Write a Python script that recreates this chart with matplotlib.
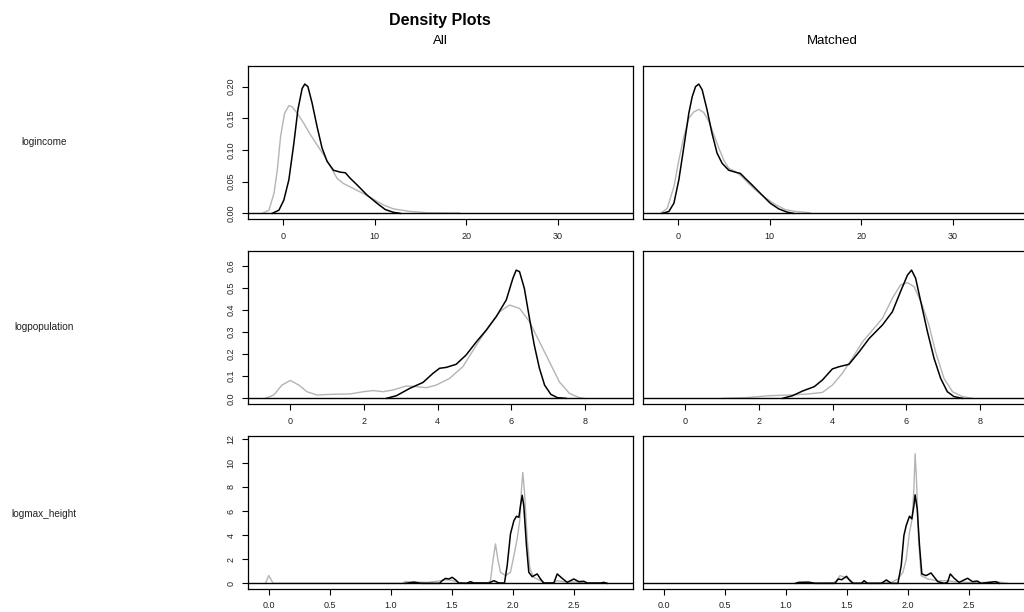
import matplotlib
matplotlib.use("Agg")
import matplotlib.pyplot as plt

plt.rcParams['font.family'] = ['Liberation Sans', 'DejaVu Sans']

# --- data (black = first group, gray = second group) ---
variables = ["logincome", "logpopulation", "logmax_height"]
col_titles = ["All", "Matched"]

# logincome, All
inc_all_black_x = [-1.2, -0.47, 0.07, 0.62, 1.16, 1.6, 2.07, 2.36, 2.7, 3.16, 3.7, 4.25, 4.8,
                   5.5, 6.25, 6.8, 7.35, 8.07, 9.16, 10.25, 11.16, 12.07, 12.8]
inc_all_black_y = [0, 0.005, 0.021, 0.053, 0.11, 0.163, 0.197, 0.204, 0.2, 0.174, 0.137, 0.103,
                   0.082, 0.068, 0.065, 0.064, 0.055, 0.045, 0.029, 0.016, 0.006, 0.0016, 0]
inc_all_gray_x = [-2.3, -1.56, -1.0, -0.65, -0.29, 0.15, 0.62, 0.98, 1.53, 2.25, 2.98, 3.7, 4.44,
                  5.16, 5.9, 6.6, 7.7, 8.8, 9.9, 11.0, 12.07, 13.9, 15.7, 19.3]
inc_all_gray_y = [0, 0.005, 0.032, 0.068, 0.121, 0.158, 0.17, 0.168, 0.158, 0.142, 0.124, 0.108,
                  0.092, 0.074, 0.055, 0.047, 0.039, 0.031, 0.022, 0.013, 0.007, 0.003, 0.001, 0.0005]

# logincome, Matched
inc_mat_black_x = [-1.75, -1.02, -0.47, 0.07, 0.62, 1.16, 1.53, 1.9, 2.25, 2.62, 3.16, 3.7, 4.25,
                   4.8, 5.53, 6.25, 6.8, 7.35, 8.07, 9.16, 10.07, 11.0, 11.9, 12.6]
inc_mat_black_y = [0, 0.003, 0.016, 0.053, 0.105, 0.158, 0.184, 0.2, 0.204, 0.195, 0.163, 0.126,
                   0.095, 0.079, 0.068, 0.065, 0.063, 0.055, 0.045, 0.029, 0.016, 0.007, 0.002, 0]
inc_mat_gray_x = [-1.93, -1.2, -0.47, 0.07, 0.62, 1.16, 1.7, 2.25, 2.8, 3.35, 3.9, 4.44, 4.98,
                  5.53, 6.25, 6.98, 7.7, 8.44, 9.5, 10.6, 11.7, 12.8, 14.4]
inc_mat_gray_y = [0, 0.008, 0.042, 0.084, 0.121, 0.15, 0.16, 0.164, 0.159, 0.145, 0.124, 0.103,
                  0.084, 0.071, 0.066, 0.058, 0.047, 0.037, 0.025, 0.014, 0.006, 0.003, 0.001]

# logpopulation, All
pop_all_black_x = [2.61, 2.88, 3.24, 3.6, 3.87, 4.05, 4.23, 4.5, 4.77, 5.05, 5.32, 5.59, 5.86,
                   6.04, 6.13, 6.22, 6.35, 6.49, 6.62, 6.76, 6.9, 7.07, 7.25, 7.48]
pop_all_black_y = [0, 0.012, 0.045, 0.072, 0.113, 0.136, 0.14, 0.154, 0.196, 0.256, 0.309, 0.37,
                   0.445, 0.543, 0.58, 0.573, 0.498, 0.362, 0.241, 0.136, 0.06, 0.018, 0.003, 0]
pop_all_gray_x = [-0.68, -0.45, -0.23, 0.0, 0.23, 0.45, 0.72, 1.08, 1.62, 1.98, 2.25, 2.52, 2.79,
                  3.15, 3.42, 3.69, 3.96, 4.32, 4.68, 5.05, 5.41, 5.68, 5.95, 6.22, 6.49, 6.76,
                  7.03, 7.3, 7.57, 7.84, 7.97]
pop_all_gray_y = [0, 0.015, 0.06, 0.081, 0.06, 0.03, 0.015, 0.018, 0.02, 0.03, 0.035, 0.03, 0.038,
                  0.056, 0.053, 0.048, 0.06, 0.09, 0.143, 0.241, 0.332, 0.392, 0.422, 0.407, 0.347,
                  0.256, 0.166, 0.075, 0.023, 0.003, 0]

# logpopulation, Matched
pop_mat_black_x = [2.64, 2.91, 3.18, 3.5, 3.72, 3.99, 4.17, 4.44, 4.72, 4.99, 5.35, 5.62, 5.84,
                   6.03, 6.14, 6.25, 6.39, 6.57, 6.75, 6.93, 7.11, 7.29, 7.52]
pop_mat_black_y = [0, 0.012, 0.033, 0.053, 0.083, 0.133, 0.143, 0.154, 0.211, 0.271, 0.332, 0.392,
                   0.483, 0.558, 0.58, 0.543, 0.437, 0.302, 0.181, 0.09, 0.03, 0.008, 0]
pop_mat_gray_x = [1.01, 1.64, 2.28, 2.82, 3.36, 3.72, 3.99, 4.26, 4.53, 4.81, 5.08, 5.35, 5.62,
                  5.84, 6.03, 6.21, 6.43, 6.61, 6.79, 7.02, 7.25, 7.52, 7.79]
pop_mat_gray_y = [0, 0.003, 0.012, 0.015, 0.02, 0.027, 0.06, 0.113, 0.181, 0.256, 0.309, 0.362,
                  0.453, 0.513, 0.523, 0.505, 0.422, 0.332, 0.211, 0.09, 0.03, 0.008, 0]

# logmax_height, All
hgt_all_black_x = [1.12, 1.19, 1.25, 1.4, 1.421, 1.448, 1.476, 1.503, 1.53, 1.558, 1.62, 1.653,
                   1.681, 1.804, 1.845, 1.886, 1.932, 1.954, 1.981, 2.009, 2.03, 2.05, 2.063, 2.077,
                   2.09, 2.112, 2.131, 2.159, 2.2, 2.227, 2.254, 2.336, 2.364, 2.405, 2.446, 2.5,
                   2.541, 2.582, 2.61, 2.72, 2.746, 2.774]
hgt_all_black_y = [0, 0.1, 0, 0, 0.22, 0.41, 0.36, 0.5, 0.3, 0.03, 0, 0.14, 0.03, 0.03, 0.22, 0.03,
                   0.03, 1.47, 4.1, 5.2, 5.56, 5.48, 6.45, 7.3, 6.45, 3.13, 0.92, 0.55, 0.78, 0.36,
                   0.03, 0.03, 0.78, 0.41, 0.08, 0.36, 0.14, 0.17, 0.03, 0.03, 0.08, 0]
hgt_all_gray_x = [-0.027, 0.0, 0.036, 1.09, 1.12, 1.2, 1.3, 1.407, 1.45, 1.5, 1.56, 1.8, 1.817,
                  1.839, 1.858, 1.877, 1.899, 1.94, 1.981, 2.009, 2.036, 2.058, 2.071, 2.082, 2.096,
                  2.118, 2.14, 2.172, 2.227, 2.254, 2.33, 2.364, 2.418, 2.555, 2.6]
hgt_all_gray_y = [0, 0.65, 0, 0, 0.15, 0.1, 0.08, 0.2, 0.3, 0.25, 0.05, 0.05, 0.22, 2.0, 3.27, 2.0,
                  0.92, 0.64, 0.92, 2.3, 3.7, 5.3, 7.8, 9.2, 7.56, 3.7, 1.2, 0.5, 0.22, 0.03, 0.03,
                  0.22, 0.14, 0.08, 0]

# logmax_height, Matched
hgt_mat_black_x = [1.08, 1.105, 1.186, 1.24, 1.403, 1.43, 1.458, 1.498, 1.526, 1.553, 1.62, 1.642,
                   1.67, 1.783, 1.824, 1.865, 1.919, 1.946, 1.968, 1.987, 2.014, 2.033, 2.05, 2.06,
                   2.077, 2.096, 2.115, 2.15, 2.19, 2.218, 2.245, 2.3, 2.326, 2.348, 2.38, 2.42,
                   2.49, 2.53, 2.57, 2.6, 2.72, 2.75]
hgt_mat_black_y = [0, 0.08, 0.1, 0, 0, 0.36, 0.3, 0.58, 0.22, 0, 0, 0.22, 0, 0, 0.28, 0, 0, 1.47,
                   3.96, 4.8, 5.57, 5.35, 6.45, 7.34, 6.18, 3.13, 0.78, 0.64, 0.86, 0.5, 0.14, 0,
                   0.1, 0.78, 0.42, 0.08, 0.42, 0.14, 0.19, 0, 0.14, 0]
hgt_mat_gray_x = [1.12, 1.3, 1.39, 1.417, 1.444, 1.485, 1.526, 1.553, 1.7, 1.865, 1.919, 1.96,
                  1.987, 2.014, 2.036, 2.05, 2.06, 2.071, 2.088, 2.109, 2.163, 2.245, 2.326, 2.38,
                  2.49, 2.6, 2.73, 2.815]
hgt_mat_gray_y = [0, 0.05, 0.05, 0.22, 0.64, 0.5, 0.3, 0.05, 0.03, 0.08, 0.36, 0.91, 2.0, 4.24,
                  5.35, 7.84, 10.75, 8.67, 3.68, 0.64, 0.36, 0.22, 0.22, 0.14, 0.08, 0.06, 0.14, 0]

curves = [
    [(inc_all_black_x, inc_all_black_y, inc_all_gray_x, inc_all_gray_y),
     (inc_mat_black_x, inc_mat_black_y, inc_mat_gray_x, inc_mat_gray_y)],
    [(pop_all_black_x, pop_all_black_y, pop_all_gray_x, pop_all_gray_y),
     (pop_mat_black_x, pop_mat_black_y, pop_mat_gray_x, pop_mat_gray_y)],
    [(hgt_all_black_x, hgt_all_black_y, hgt_all_gray_x, hgt_all_gray_y),
     (hgt_mat_black_x, hgt_mat_black_y, hgt_mat_gray_x, hgt_mat_gray_y)],
]

x_ticks = [[0, 10, 20, 30], [0, 2, 4, 6, 8], [0.0, 0.5, 1.0, 1.5, 2.0, 2.5]]
x_ticklabels = [["0", "10", "20", "30"], ["0", "2", "4", "6", "8"],
                ["0.0", "0.5", "1.0", "1.5", "2.0", "2.5"]]
y_ticks = [[0.0, 0.05, 0.10, 0.15, 0.20], [0.0, 0.1, 0.2, 0.3, 0.4, 0.5, 0.6],
           [0, 2, 4, 6, 8, 10, 12]]
y_ticklabels = [["0.00", "0.05", "0.10", "0.15", "0.20"],
                ["0.0", "0.1", "0.2", "0.3", "0.4", "0.5", "0.6"],
                ["0", "2", "4", "6", "8", "10", "12"]]

# --- layout (figure fractions measured from the 1024x612 reference) ---
xlims = [(-3.85, 38.25), (-1.15, 9.3), (-0.17, 2.985)]
ylims = [(-0.0089, 0.2325), (-0.0256, 0.6665), (-0.47, 12.22)]
row_bottoms = [1 - 219 / 612, 1 - 404 / 612, 1 - 589 / 612]
row_h = 153 / 612
col_lefts = [248 / 1024, 643 / 1024]
col_w = 385 / 1024
row_label_y = [142, 327, 514]

fig = plt.figure(figsize=(10.24, 6.12), dpi=100, facecolor='white')

for r in range(3):
    for c in range(2):
        ax = fig.add_axes([col_lefts[c], row_bottoms[r], col_w, row_h])
        bx, by, gx, gy = curves[r][c]
        ax.plot(gx, gy, color='#b4b4b4', lw=1.0)
        ax.plot(bx, by, color='black', lw=1.1)
        ax.axhline(0, color='black', lw=1.0)
        ax.set_xlim(*xlims[r])
        ax.set_ylim(*ylims[r])
        ax.set_xticks(x_ticks[r])
        ax.set_xticklabels(x_ticklabels[r])
        ax.tick_params(axis='both', direction='out', length=4, width=0.8,
                       labelsize=6.5, pad=5, color='black', labelcolor='#222222')
        if c == 0:
            ax.set_yticks(y_ticks[r])
            ax.set_yticklabels(y_ticklabels[r], rotation=90, va='center')
        else:
            ax.set_yticks([])
        for sp in ax.spines.values():
            sp.set_linewidth(0.9)
            sp.set_color('black')

    fig.text(44 / 1024, 1 - row_label_y[r] / 612, variables[r], ha='center', va='center',
             fontsize=7.2, color='#222222')

fig.text(440 / 1024, 1 - 20 / 612, "Density Plots", ha='center', va='center',
         fontsize=11.5, fontweight='bold')
fig.text(440 / 1024, 1 - 41 / 612, col_titles[0], ha='center', va='center', fontsize=9.5)
fig.text(832 / 1024, 1 - 41 / 612, col_titles[1], ha='center', va='center', fontsize=9.5)

fig.savefig("out.png", dpi=100, facecolor='white')
